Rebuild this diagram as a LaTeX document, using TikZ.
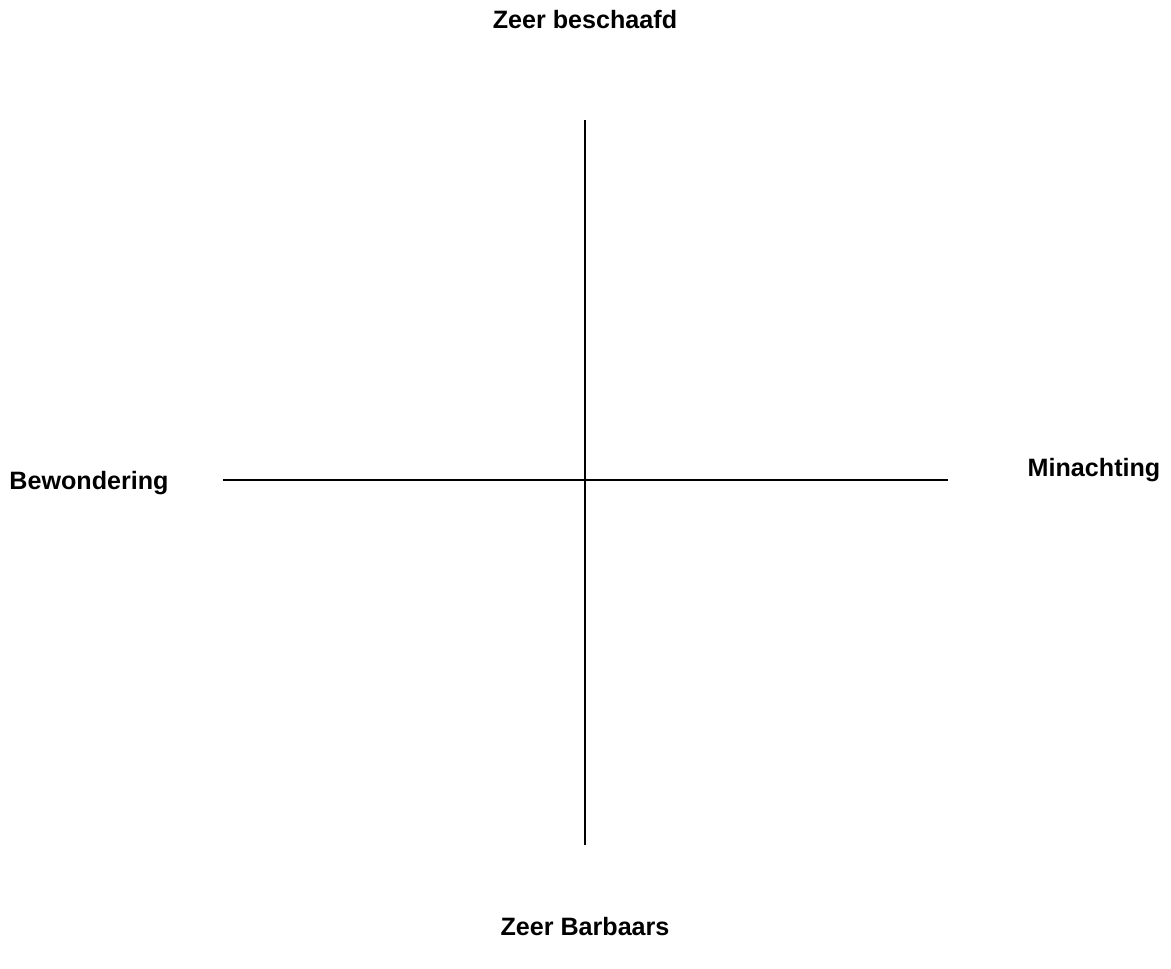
\documentclass[tikz,border=0pt]{standalone}
\usepackage{fontspec}
\setmainfont{Liberation Sans}
\begin{document}
\begin{tikzpicture}[x=0.02cm,y=-0.02cm,
  lbl/.style={font=\bfseries\fontsize{14.3}{17}\selectfont, inner sep=0pt},
  axis/.style={line width=0.6pt, black}]
\useasboundingbox (0,0) rectangle (1171,969);
\coordinate (top) at (585,120);
\coordinate (bot) at (585,845);
\coordinate (left) at (223,480);
\coordinate (right) at (948,480);
\draw[axis] (top) -- (bot);
\draw[axis] (left) -- (right);
\node[lbl] (n) at (585,20) {Zeer beschaafd};
\node[lbl] (s) at (585,927) {Zeer Barbaars};
\node[lbl] (w) at (89,483) {Bewondering};
\node[lbl] (e) at (1094,470) {Minachting};
\end{tikzpicture}
\end{document}
